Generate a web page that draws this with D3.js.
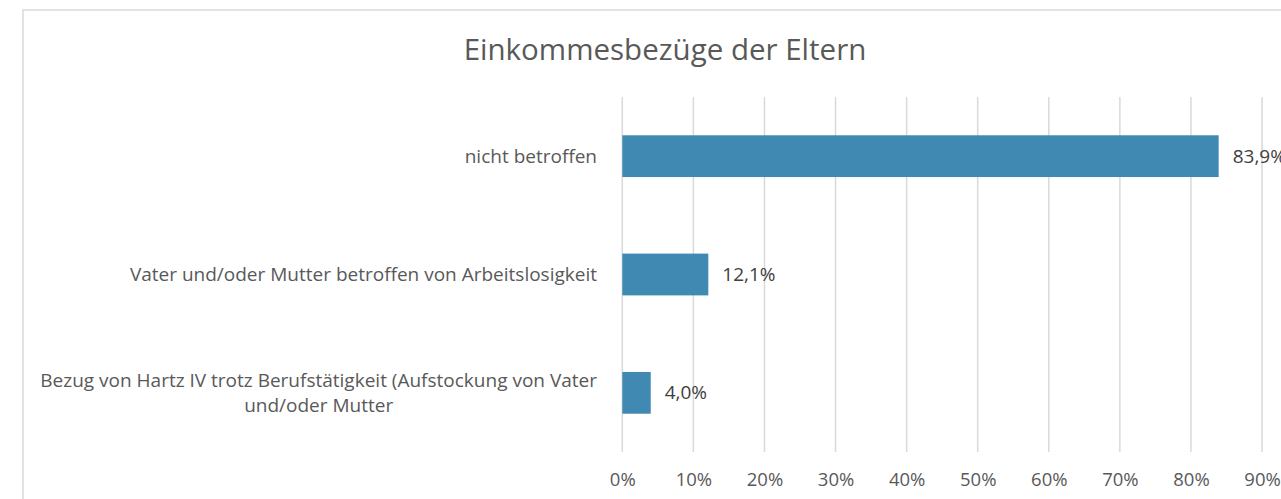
<!DOCTYPE html>
<html>
<head>
<meta charset="utf-8">
<script src="https://cdn.jsdelivr.net/npm/d3@7"></script>
<style>
  body { margin: 0; background: #fff; }
  text { font-family: "Open Sans", "Noto Sans", sans-serif; }
</style>
</head>
<body>
<div id="chart"></div>
<script>
var svgWidth = 1281;
var svgHeight = 499;

// data
var categories = [
  "nicht betroffen",
  "Vater und/oder Mutter betroffen von Arbeitslosigkeit",
  "Bezug von Hartz IV trotz Berufstätigkeit (Aufstockung von Vater und/oder Mutter"
];
var values = [83.9, 12.1, 4.0];
var tickValues = [0, 10, 20, 30, 40, 50, 60, 70, 80, 90];
var title = "Einkommesbezüge der Eltern";

var margin = { top: 97, left: 622.3, bottom: 47 };
var plotHeight = svgHeight - margin.top - margin.bottom;
var fontSize = "19px";

var svg = d3.select("#chart")
  .append("svg")
  .attr("width", svgWidth)
  .attr("height", svgHeight);

// outer frame
svg.append("rect")
  .attr("x", 23)
  .attr("y", 10)
  .attr("width", 1400)
  .attr("height", 600)
  .attr("fill", "none")
  .attr("stroke", "#d9d9d9")
  .attr("stroke-width", 1.5);

svg.append("text")
  .attr("x", 665)
  .attr("y", 60)
  .attr("text-anchor", "middle")
  .attr("font-size", "29.5px")
  .attr("fill", "#595959")
  .text(title);

var chartGroup = svg.append("g")
  .attr("transform", `translate(${margin.left}, ${margin.top})`);

var xScale = d3.scaleLinear()
  .domain([0, 100])
  .range([0, 710.8]);

var yScale = d3.scaleBand()
  .domain(categories)
  .range([0, plotHeight])
  .paddingInner(0.647)
  .paddingOuter(0.3235);

// gridlines
chartGroup.selectAll(".grid")
  .data(tickValues)
  .enter()
  .append("line")
  .attr("x1", d => xScale(d))
  .attr("x2", d => xScale(d))
  .attr("y1", 0)
  .attr("y2", plotHeight)
  .attr("stroke", "#d9d9d9")
  .attr("stroke-width", 1.5);

// x axis labels
var bottomAxis = d3.axisBottom(xScale)
  .tickValues(tickValues)
  .tickSize(0)
  .tickPadding(21)
  .tickFormat(d => d + "%");

var xAxis = chartGroup.append("g")
  .attr("transform", `translate(0, ${plotHeight})`)
  .call(bottomAxis);
xAxis.select(".domain").remove();
xAxis.selectAll("text")
  .attr("font-size", "18.5px")
  .attr("fill", "#595959")
  .attr("font-family", "'Open Sans', sans-serif");

// bars
chartGroup.selectAll(".bar")
  .data(categories)
  .enter()
  .append("rect")
  .attr("x", 0)
  .attr("y", d => yScale(d))
  .attr("width", (d, i) => xScale(values[i]))
  .attr("height", yScale.bandwidth())
  .attr("fill", "#3f89b3");

// value labels
chartGroup.selectAll(".val")
  .data(categories)
  .enter()
  .append("text")
  .attr("x", (d, i) => xScale(values[i]) + 14)
  .attr("y", d => yScale(d) + yScale.bandwidth() / 2)
  .attr("dy", "0.35em")
  .attr("font-size", fontSize)
  .attr("fill", "#404040")
  .text((d, i) => values[i].toFixed(1).replace(".", ",") + "%");

// category labels, wrapped and right aligned as a block
var labelRight = 597 - margin.left;
var maxLabelWidth = 580;
var lineHeight = 25;

categories.forEach(function(cat) {
  var words = cat.split(" ");
  var lines = [];
  var current = [];
  var probe = chartGroup.append("text").attr("font-size", fontSize);
  words.forEach(function(w) {
    current.push(w);
    probe.text(current.join(" "));
    if (probe.node().getComputedTextLength() > maxLabelWidth && current.length > 1) {
      current.pop();
      lines.push(current.join(" "));
      current = [w];
    }
  });
  lines.push(current.join(" "));
  var widths = lines.map(function(l) {
    probe.text(l);
    return probe.node().getComputedTextLength();
  });
  probe.remove();
  var blockW = d3.max(widths);
  var cy = yScale(cat) + yScale.bandwidth() / 2;
  var startY = cy - (lines.length - 1) * lineHeight / 2;
  var label = chartGroup.append("text")
    .attr("font-size", fontSize)
    .attr("fill", "#595959")
    .attr("text-anchor", "middle");
  lines.forEach(function(l, i) {
    label.append("tspan")
      .attr("x", labelRight - blockW / 2)
      .attr("y", startY + i * lineHeight)
      .attr("dy", "0.35em")
      .text(l);
  });
});
</script>
</body>
</html>
